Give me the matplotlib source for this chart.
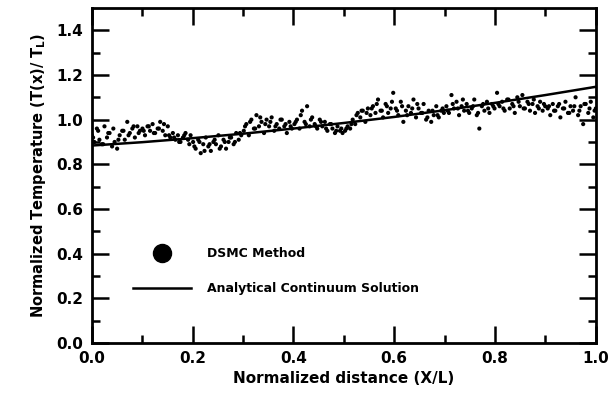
import numpy as np
import matplotlib
matplotlib.use("Agg")
import matplotlib.pyplot as plt
from matplotlib.lines import Line2D

dsmc_y = [
    0.93, 0.90, 0.96, 0.91, 0.89, 0.97, 0.92, 0.94, 0.88, 0.90, 0.87, 0.93, 0.95, 0.91, 0.99, 0.94, 0.96, 0.92, 0.97, 0.95,
    0.96, 0.93, 0.97, 0.95, 0.98, 0.94, 0.96, 0.99, 0.95, 0.93, 0.97, 0.92, 0.94, 0.91, 0.93, 0.90, 0.92, 0.94, 0.91, 0.93,
    0.90, 0.87, 0.91, 0.85, 0.89, 0.92, 0.88, 0.86, 0.90, 0.89, 0.93, 0.88, 0.91, 0.87, 0.90, 0.92, 0.89, 0.94, 0.91, 0.93,
    0.95, 0.98, 0.93, 1.00, 0.96, 1.02, 0.97, 0.99, 0.94, 1.00, 0.97, 1.01, 0.95, 0.98, 0.96, 1.00, 0.97, 0.94, 0.99, 0.96,
    0.98, 1.00, 0.96, 1.04, 0.99, 1.06, 0.97, 1.01, 0.98, 0.96, 1.00, 0.97, 0.99, 0.95, 0.98, 0.96, 0.94, 0.97, 0.95, 0.94,
    0.95, 0.97, 0.96, 1.00, 0.98, 1.03, 1.01, 1.04, 0.99, 1.05, 1.02, 1.06, 1.03, 1.09, 1.04, 1.01, 1.07, 1.03, 1.05, 1.12,
    1.05, 1.02, 1.08, 0.99, 1.04, 1.06, 1.03, 1.09, 1.01, 1.05, 1.03, 1.07, 1.00, 1.04, 0.99, 1.02, 1.06, 1.01, 1.04, 1.03,
    1.06, 1.03, 1.11, 1.05, 1.08, 1.02, 1.06, 1.04, 1.07, 1.03, 1.05, 1.09, 1.02, 0.96, 1.06, 1.04, 1.08, 1.03, 1.07, 1.05,
    1.12, 1.06, 1.08, 1.04, 1.09, 1.05, 1.07, 1.03, 1.10, 1.06, 1.11, 1.05, 1.08, 1.04, 1.07, 1.03, 1.06, 1.08, 1.04, 1.06,
    1.05, 1.02, 1.07, 1.04, 1.06, 1.01, 1.05, 1.08, 1.03, 1.06, 1.04, 1.10, 1.02, 1.06, 0.98, 1.07, 1.03, 1.08, 1.01, 1.05,
]
dsmc_x = np.linspace(0.0, 1.0, len(dsmc_y))

# second DSMC sample set, interleaved between the first
dsmc_y2 = [
    0.92, 0.95, 0.89, 0.94, 0.96, 0.91, 0.95, 0.93, 0.97, 0.94,
    0.95, 0.97, 0.94, 0.96, 0.98, 0.93, 0.92, 0.90, 0.93, 0.89,
    0.88, 0.90, 0.86, 0.89, 0.91, 0.87, 0.90, 0.92, 0.90, 0.94,
    0.97, 0.99, 0.96, 1.01, 0.98, 0.99, 0.97, 1.00, 0.98, 0.97,
    0.99, 1.02, 0.98, 1.00, 0.97, 0.99, 0.96, 0.98, 0.95, 0.96,
    0.96, 0.98, 1.02, 1.04, 1.03, 1.05, 1.07, 1.04, 1.06, 1.08,
    1.04, 1.06, 1.02, 1.05, 1.07, 1.03, 1.01, 1.04, 1.02, 1.05,
    1.04, 1.07, 1.05, 1.09, 1.04, 1.06, 1.03, 1.07, 1.05, 1.06,
    1.07, 1.05, 1.09, 1.06, 1.08, 1.05, 1.07, 1.09, 1.05, 1.07,
    1.06, 1.04, 1.07, 1.05, 1.03, 1.06, 1.04, 1.07, 1.05, 1.04,
]
dsmc_x2 = np.linspace(0.0025, 0.9975, len(dsmc_y2))

# Analytical continuum solution
analytic_x = [0.0, 0.1, 0.2, 0.3, 0.4, 0.5, 0.6, 0.7, 0.8, 0.9, 1.0]
analytic_y = [0.884, 0.899, 0.917, 0.937, 0.960, 0.985, 1.012, 1.042, 1.075, 1.110, 1.147]

x_ticks = [0.0, 0.2, 0.4, 0.6, 0.8, 1.0]
y_ticks = [0.0, 0.2, 0.4, 0.6, 0.8, 1.0, 1.2, 1.4]

plt.rcParams['font.family'] = ['DejaVu Sans']
plt.rcParams['font.weight'] = 'bold'
plt.rcParams['mathtext.default'] = 'bf'

fig = plt.figure(figsize=(6.08, 3.97), dpi=100)
ax = fig.add_axes([0.151, 0.136, 0.829, 0.844])

ax.plot(analytic_x, analytic_y, color='black', lw=1.8, zorder=2)
ax.scatter(dsmc_x, dsmc_y, s=9, color='black', edgecolors='none', zorder=3)
ax.scatter(dsmc_x2, dsmc_y2, s=9, color='black', edgecolors='none', zorder=3)

ax.set_xlim(0, 1.0)
ax.set_ylim(0, 1.5)
ax.set_xticks(x_ticks)
ax.set_yticks(y_ticks)
ax.set_xticklabels([f"{v:.1f}" for v in x_ticks], fontweight='bold', fontsize=11)
ax.set_yticklabels([f"{v:.1f}" for v in y_ticks], fontweight='bold', fontsize=11)
ax.set_xticks(np.arange(0.1, 1.0, 0.2), minor=True)
ax.set_yticks(np.arange(0.1, 1.5, 0.2), minor=True)
ax.tick_params(which='both', direction='in', top=True, right=True, width=1.8, color='black')
ax.tick_params(which='major', length=12)
ax.tick_params(which='minor', length=6)
ax.tick_params(axis='x', which='major', pad=6)
ax.tick_params(axis='y', which='major', pad=6)
for sp in ax.spines.values():
    sp.set_linewidth(2.0)

ax.set_xlabel('Normalized distance (X/L)', fontweight='bold', fontsize=11, labelpad=3)
ax.set_ylabel(r'Normalized Temperature (T(x)/ T$_{\mathbf{L}}$)', fontweight='bold', fontsize=10.5, labelpad=6)

handles = [
    Line2D([], [], marker='o', color='black', linestyle='none', markersize=13),
    Line2D([], [], color='black', lw=1.8),
]
ax.legend(handles, ['DSMC Method', 'Analytical Continuum Solution'],
          loc='lower left', bbox_to_anchor=(0.06, 0.11), frameon=False,
          handlelength=4.6, handletextpad=1.3, labelspacing=1.75,
          prop={'weight': 'bold', 'size': 9})

fig.savefig('out.png', dpi=100)
